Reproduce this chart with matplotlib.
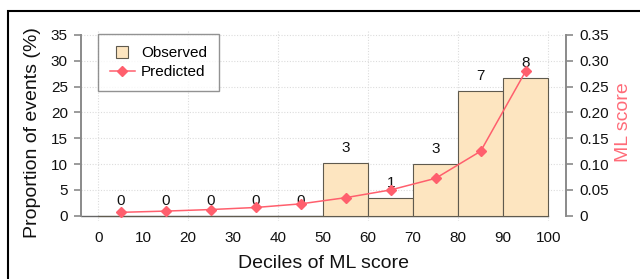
import matplotlib
matplotlib.use("Agg")
import matplotlib.pyplot as plt
from matplotlib.patches import Rectangle
from matplotlib.lines import Line2D

plt.rcParams['font.family'] = ['Liberation Sans', 'DejaVu Sans']

bin_left = [0, 10, 20, 30, 40, 50, 60, 70, 80, 90]
observed = [0, 0, 0, 0, 0, 10.3, 3.4, 10.0, 24.2, 26.7]
counts = ["0", "0", "0", "0", "0", "3", "1", "3", "7", "8"]
midpoints = [5, 15, 25, 35, 45, 55, 65, 75, 85, 95]
predicted = [0.0066, 0.009, 0.012, 0.016, 0.023, 0.035, 0.050, 0.0725, 0.125, 0.28]
xticks = [0, 10, 20, 30, 40, 50, 60, 70, 80, 90, 100]
yticks_left = [0, 5, 10, 15, 20, 25, 30, 35]
yticks_right = [0, 0.05, 0.10, 0.15, 0.20, 0.25, 0.30, 0.35]
yticklabels_right = ["0", "0.05", "0.10", "0.15", "0.20", "0.25", "0.30", "0.35"]

bar_fc = '#FDE5C0'
bar_ec = '#5f5a4e'
red = '#FF5F6D'
gray = '#8a8a8a'

fig = plt.figure(figsize=(6.4, 2.79), dpi=100)
ax = fig.add_axes([0.1266, 0.2082, 0.884 - 0.1266, 0.8932 - 0.2082])
ax.set_xlim(-3.8, 103.9)
ax.set_ylim(-1, 36)

# grid
for y in yticks_left[1:]:
    ax.axhline(y, color='#dcdcdc', lw=0.8, ls=(0, (1, 1.5)), zorder=0)
for x in [0, 20, 40, 60, 80, 100]:
    ax.axvline(x, color='#dcdcdc', lw=0.8, ls=(0, (1, 1.5)), zorder=0)

ax.plot([-3.8, 100], [0, 0], color='#666666', lw=1.0, zorder=1)
ax.bar(bin_left, observed, width=10, align='edge', color=bar_fc,
       edgecolor=bar_ec, linewidth=0.8, zorder=2)
for x, h, c in zip(midpoints, observed, counts):
    ax.text(x, h + 2.9, c, ha='center', va='center', fontsize=11, color='#111111', zorder=5)

ax.set_xticks(xticks)
ax.set_yticks(yticks_left)
ax.tick_params(axis='x', length=0, pad=7, labelsize=11, colors='#111111')
ax.tick_params(axis='y', length=5, width=1.2, color=gray, pad=4.5, labelsize=11, labelcolor='#111111')
for s in ['top', 'bottom', 'right']:
    ax.spines[s].set_visible(False)
ax.spines['left'].set_bounds(0, 35)
ax.spines['left'].set_color(gray)
ax.spines['left'].set_linewidth(1.4)

ax.set_ylabel('Proportion of events (%)', fontsize=14, color='#111111')
ax.yaxis.set_label_coords(-0.0825, 0.463)
ax.set_xlabel('Deciles of ML score', fontsize=14, color='#111111')
ax.xaxis.set_label_coords(0.5, -0.178)

ax2 = ax.twinx()
ax2.set_ylim(-0.01, 0.36)
ax2.plot(midpoints, predicted, color=red, lw=1.1, marker='D', markersize=5.5,
         markerfacecolor=red, markeredgecolor=red, zorder=4)
ax2.set_yticks(yticks_right)
ax2.set_yticklabels(yticklabels_right)
ax2.tick_params(axis='y', length=5, width=1.2, color=gray, pad=4.5, labelsize=11, labelcolor='#111111')
for s in ['top', 'bottom', 'left']:
    ax2.spines[s].set_visible(False)
ax2.spines['right'].set_bounds(0, 0.35)
ax2.spines['right'].set_color(gray)
ax2.spines['right'].set_linewidth(1.4)
ax2.set_ylabel('ML score', fontsize=14, color='#FF6B78')
ax2.yaxis.set_label_coords(1.102, 0.515)

handles = [Line2D([0], [0], linestyle='none', marker='s', markersize=9,
                  markerfacecolor=bar_fc, markeredgecolor=bar_ec, markeredgewidth=0.8),
           Line2D([0], [0], color=red, lw=1.1, marker='D', markersize=5, markerfacecolor=red)]
leg = ax2.legend(handles, ['Observed', 'Predicted'], loc='upper left',
                 bbox_to_anchor=(0.035, 0.978), borderaxespad=0, fontsize=11,
                 frameon=True, fancybox=False, edgecolor='#777777',
                 handlelength=1.6, handletextpad=0.4, borderpad=0.8, labelspacing=0.32)
leg.get_frame().set_linewidth(1.0)

fig.patches.append(Rectangle((8 / 640, -0.1), 1.2, (279 - 11) / 279 + 0.1,
                             transform=fig.transFigure, fill=False,
                             edgecolor='black', linewidth=1.5, zorder=10))

fig.savefig('out.png', dpi=100)
